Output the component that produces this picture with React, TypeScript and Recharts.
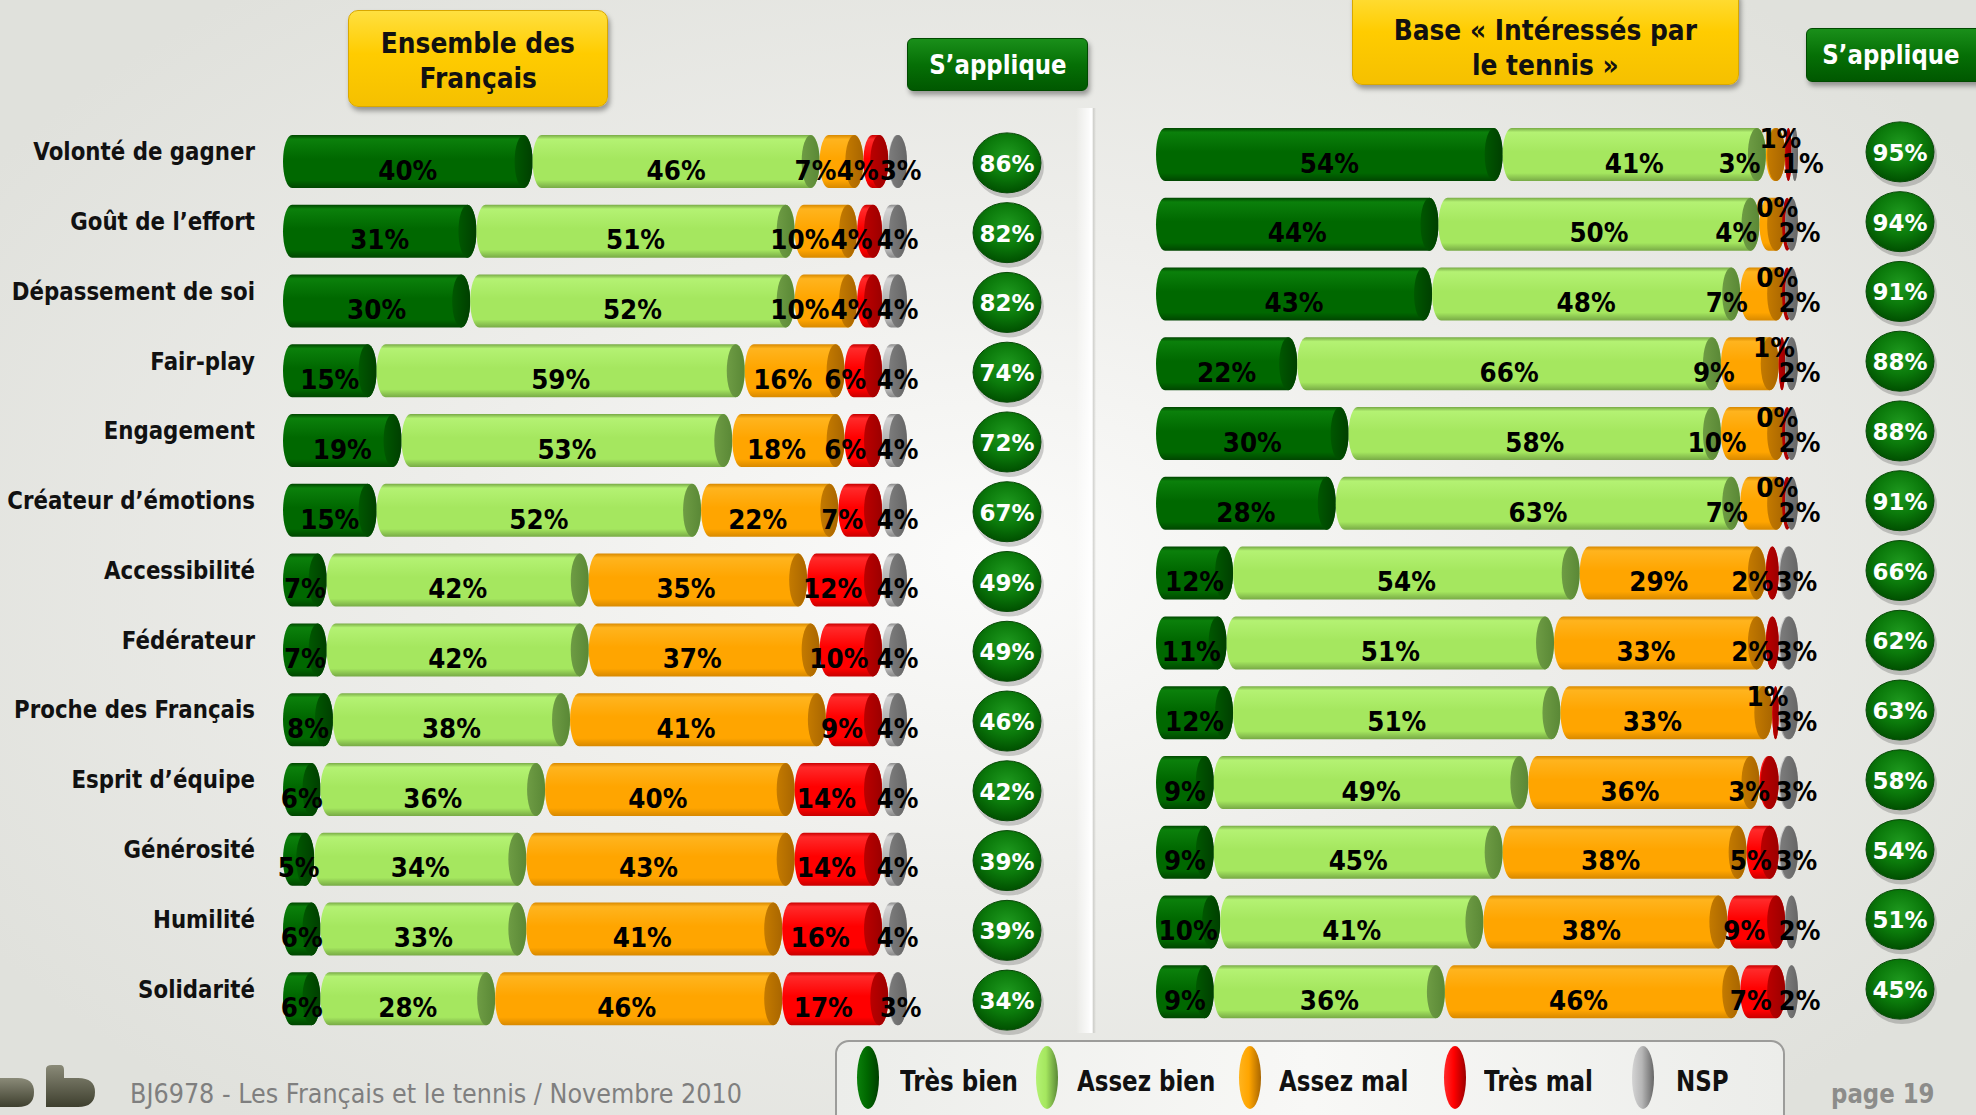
import React from 'react';
import { BarChart, Bar, XAxis, YAxis, LabelList } from 'recharts';

// qualities tested
const criteria = [
  'Volonté de gagner',
  'Goût de l’effort',
  'Dépassement de soi',
  'Fair-play',
  'Engagement',
  'Créateur d’émotions',
  'Accessibilité',
  'Fédérateur',
  'Proche des Français',
  'Esprit d’équipe',
  'Générosité',
  'Humilité',
  'Solidarité',
];

const seriesKeys = ['tb', 'ab', 'am', 'tm', 'nsp'];
const seriesNames = ['Très bien', 'Assez bien', 'Assez mal', 'Très mal', 'NSP'];

// Ensemble des Français
const allTresBien = [40, 31, 30, 15, 19, 15, 7, 7, 8, 6, 5, 6, 6];
const allAssezBien = [46, 51, 52, 59, 53, 52, 42, 42, 38, 36, 34, 33, 28];
const allAssezMal = [7, 10, 10, 16, 18, 22, 35, 37, 41, 40, 43, 41, 46];
const allTresMal = [4, 4, 4, 6, 6, 7, 12, 10, 9, 14, 14, 16, 17];
const allNsp = [3, 4, 4, 4, 4, 4, 4, 4, 4, 4, 4, 4, 3];
const allApplique = [86, 82, 82, 74, 72, 67, 49, 49, 46, 42, 39, 39, 34];

// Base « Intéressés par le tennis »
const fanTresBien = [54, 44, 43, 22, 30, 28, 12, 11, 12, 9, 9, 10, 9];
const fanAssezBien = [41, 50, 48, 66, 58, 63, 54, 51, 51, 49, 45, 41, 36];
const fanAssezMal = [3, 4, 7, 9, 10, 7, 29, 33, 33, 36, 38, 38, 46];
const fanTresMal = [1, 0, 0, 1, 0, 0, 2, 2, 1, 3, 5, 9, 7];
const fanNsp = [1, 2, 2, 2, 2, 2, 3, 3, 3, 3, 3, 2, 2];
const fanApplique = [95, 94, 91, 88, 88, 91, 66, 62, 63, 58, 54, 51, 45];

const buildRows = (tb: number[], ab: number[], am: number[], tm: number[], nsp: number[]) =>
  criteria.map((name, i) => ({ name, tb: tb[i], ab: ab[i], am: am[i], tm: tm[i], nsp: nsp[i] }));

const allRows = buildRows(allTresBien, allAssezBien, allAssezMal, allTresMal, allNsp);
const fanRows = buildRows(fanTresBien, fanAssezBien, fanAssezMal, fanTresMal, fanNsp);

const palette = [
  { top: '#0b800b', mid: '#006800', bottom: '#004600', cap: '#003f00', hi: '#005800' },
  { top: '#b4f273', mid: '#a5e75f', bottom: '#78aa46', cap: '#5a8836', hi: '#6e9c44' },
  { top: '#ffb41e', mid: '#ffa500', bottom: '#d88900', cap: '#a96600', hi: '#c47a00' },
  { top: '#ff2a2a', mid: '#ff0000', bottom: '#c80000', cap: '#9c0000', hi: '#bb0000' },
  { top: '#d4d4d4', mid: '#b6b6b6', bottom: '#8a8a8a', cap: '#666666', hi: '#7c7c7c' },
];

const gradients = (p: string) => [
  ...palette.map((c, i) => (
    <linearGradient key={`b${i}`} id={`${p}body${i}`} x1="0" y1="0" x2="0" y2="1">
      <stop offset="0%" stopColor={c.bottom} />
      <stop offset="8%" stopColor={c.top} />
      <stop offset="45%" stopColor={c.mid} />
      <stop offset="85%" stopColor={c.mid} />
      <stop offset="100%" stopColor={c.bottom} />
    </linearGradient>
  )),
  ...palette.map((c, i) => (
    <linearGradient key={`c${i}`} id={`${p}cap${i}`} x1="0" y1="0" x2="1" y2="0">
      <stop offset="0%" stopColor={c.hi} />
      <stop offset="100%" stopColor={c.cap} />
    </linearGradient>
  )),
  <radialGradient key="ap" id={`${p}appl`} cx="50%" cy="38%" r="62%">
    <stop offset="0%" stopColor="#1f9a1f" />
    <stop offset="55%" stopColor="#0b7a0b" />
    <stop offset="100%" stopColor="#005000" />
  </radialGradient>,
];

const makeShape = (p: string, s: number) => (props: any) => {
  const { x, y, width, height } = props;
  if (x == null || y == null || !height) return <g />;
  const ry = height / 2;
  const cy = y + ry;
  const w = Math.max(width || 0, 0);
  if (w < 2) {
    return <ellipse cx={x + 2} cy={cy} rx={5} ry={ry} fill={`url(#${p}cap${s})`} />;
  }
  const rx = Math.min(9, w / 2);
  const d = `M${x + rx},${y} H${x + w - rx} A${rx},${ry} 0 0 1 ${x + w - rx},${y + height} H${x + rx} A${rx},${ry} 0 0 1 ${x + rx},${y} Z`;
  return (
    <g>
      <path d={d} fill={`url(#${p}body${s})`} />
      <ellipse cx={x + w - rx} cy={cy} rx={rx} ry={ry} fill={`url(#${p}cap${s})`} />
    </g>
  );
};

const makeLabel = (side: 'L' | 'R', s: number) => (props: any) => {
  const { x, y, width, height, value } = props;
  if (x == null || y == null) return null;
  let cx = x + (width || 0) / 2;
  let cy = y + height / 2 + 9;
  if (side === 'L') {
    if (s === 2) cx -= value < 12 ? 26 : 12;
    if (s === 3) cx -= value < 8 ? 18 : 12;
    if (s === 4) cx += 3;
  } else {
    if (s === 2) cx -= value < 12 ? 36 : 14;
    if (s === 3) {
      if (value <= 1) {
        cx -= 8;
        cy -= 25;
      } else {
        cx -= value < 4 ? 20 : 12;
      }
    }
    if (s === 4) cx += 8;
  }
  return (
    <text
      transform={`translate(${cx},${cy}) scale(0.95,1)`}
      textAnchor="middle"
      dominantBaseline="central"
      fontFamily="DejaVu Sans, sans-serif"
      fontWeight="bold"
      fontSize={26}
      fill="#000"
    >
      {`${value}%`}
    </text>
  );
};

const CategoryTick = (props: any) => {
  const { x, y, payload } = props;
  return (
    <text
      transform={`translate(${x - 28},${y - 10}) scale(0.89,1)`}
      textAnchor="end"
      dominantBaseline="central"
      fontFamily="DejaVu Sans, sans-serif"
      fontWeight="bold"
      fontSize={24}
      fill="#111"
    >
      {payload.value}
    </text>
  );
};

const makeAppliqueTick = (p: string, values: number[], offset: number, dy: number) => (props: any) => {
  const { x, y, payload } = props;
  const i = criteria.indexOf(payload.value);
  const cx = x + offset;
  const cy = y + dy;
  return (
    <g>
      <ellipse cx={cx + 2} cy={cy + 4} rx={35} ry={31} fill="rgba(0,0,0,0.18)" />
      <ellipse cx={cx} cy={cy} rx={34} ry={30} fill={`url(#${p}appl)`} stroke="#0a4a0a" strokeWidth={1} />
      <text
        x={cx}
        y={cy + 1}
        textAnchor="middle"
        dominantBaseline="central"
        fontFamily="DejaVu Sans, sans-serif"
        fontWeight="bold"
        fontSize={23}
        fill="#fff"
      >
        {`${values[i]}%`}
      </text>
    </g>
  );
};

const StackedPanel = ({ p, rows, applique, width, margin, showNames, circleOffset, circleDy }: any) => (
  <BarChart width={width} height={1040} data={rows} layout="vertical" margin={margin} barSize={53}>
    <defs>{gradients(p)}</defs>
    <XAxis type="number" domain={[0, 100]} hide />
    {showNames ? (
      <YAxis
        yAxisId="cat"
        type="category"
        dataKey="name"
        width={283}
        interval={0}
        tickLine={false}
        axisLine={false}
        tickSize={0}
        tickMargin={0}
        tick={CategoryTick}
      />
    ) : (
      <YAxis yAxisId="cat" type="category" dataKey="name" hide width={0} />
    )}
    <YAxis
      yAxisId="appl"
      type="category"
      dataKey="name"
      orientation="right"
      width={150}
      interval={0}
      tickLine={false}
      axisLine={false}
      tickSize={0}
      tickMargin={0}
      tick={makeAppliqueTick(p, applique, circleOffset, circleDy)}
    />
    {seriesKeys.map((k, s) => (
      <Bar
        key={k}
        yAxisId="cat"
        dataKey={k}
        name={seriesNames[s]}
        stackId="a"
        fill={palette[s].mid}
        shape={makeShape(p, s)}
        isAnimationActive={false}
      >
        <LabelList dataKey={k} content={makeLabel(p === 'L' ? 'L' : 'R', s)} />
      </Bar>
    ))}
  </BarChart>
);

const squeeze = (t: string, sx: number) => (
  <span style={{ display: 'inline-block', transform: `scaleX(${sx})`, whiteSpace: 'nowrap' }}>{t}</span>
);

const yellowBox: React.CSSProperties = {
  position: 'absolute',
  background: 'linear-gradient(#ffe040, #ffcc00 45%, #f5c000)',
  border: '1px solid #d9a800',
  borderRadius: 10,
  boxShadow: '2px 4px 5px rgba(0,0,0,0.35)',
  display: 'flex',
  flexDirection: 'column',
  alignItems: 'center',
  justifyContent: 'center',
  fontWeight: 'bold',
  fontSize: 29,
  lineHeight: '35px',
  color: '#111',
  boxSizing: 'border-box',
};

const greenBox: React.CSSProperties = {
  position: 'absolute',
  background: 'linear-gradient(#1a8f1a, #067006 50%, #005800)',
  border: '1px solid #004a00',
  borderRadius: 6,
  boxShadow: '2px 4px 5px rgba(0,0,0,0.35)',
  display: 'flex',
  alignItems: 'center',
  justifyContent: 'center',
  fontWeight: 'bold',
  fontSize: 26,
  color: '#fff',
  boxSizing: 'border-box',
};

// legend layout (x of marker centre and text start inside the legend box)
const legendMarkerX = [31, 210, 413, 618, 806];
const legendTextX = [63, 240, 442, 647, 839];

export default function App() {
  return (
    <div
      style={{
        position: 'absolute',
        left: 0,
        top: 0,
        width: 1976,
        height: 1115,
        overflow: 'hidden',
        fontFamily: 'DejaVu Sans, sans-serif',
        background: 'radial-gradient(ellipse 60% 65% at 50% 50%, #fbfbfa 0%, #eeeeeb 45%, #e0e1dc 100%)',
      }}
    >
      {/* separator */}
      <div
        style={{
          position: 'absolute',
          left: 1076,
          top: 108,
          width: 20,
          height: 925,
          background:
            'linear-gradient(to right, rgba(255,255,255,0), rgba(255,255,255,0.8) 65%, #fff 72%, #fff 80%, rgba(190,190,185,0.6) 88%, rgba(255,255,255,0))',
        }}
      />

      {/* headers */}
      <div style={{ ...yellowBox, left: 348, top: 10, width: 260, height: 97, paddingTop: 4 }}>
        {squeeze('Ensemble des', 0.86)}
        {squeeze('Français', 0.86)}
      </div>
      <div style={{ ...greenBox, left: 907, top: 38, width: 181, height: 53 }}>{squeeze('S’applique', 0.88)}</div>
      <div style={{ ...yellowBox, left: 1352, top: -12, width: 387, height: 97, paddingTop: 22 }}>
        {squeeze('Base « Intéressés par', 0.86)}
        {squeeze('le tennis »', 0.86)}
      </div>
      <div style={{ ...greenBox, left: 1806, top: 28, width: 200, height: 54, justifyContent: 'flex-start', paddingLeft: 6 }}>
        {squeeze('S’applique', 0.88)}
      </div>

      <div style={{ position: 'absolute', left: 0, top: 0 }}>
        <StackedPanel
          p="L"
          rows={allRows}
          applique={allApplique}
          width={1057}
          margin={{ top: 127, right: 0, bottom: 6, left: 0 }}
          showNames
          circleOffset={100}
          circleDy={1}
        />
      </div>
      <div style={{ position: 'absolute', left: 1100, top: 0 }}>
        <StackedPanel
          p="R"
          rows={fanRows}
          applique={fanApplique}
          width={848}
          margin={{ top: 120, right: 0, bottom: 13, left: 56 }}
          showNames={false}
          circleOffset={102}
          circleDy={-3}
        />
      </div>

      {/* legend */}
      <div
        style={{
          position: 'absolute',
          left: 835,
          top: 1040,
          width: 946,
          height: 100,
          border: '2px solid #9c9c9a',
          borderRadius: 14,
          background: 'linear-gradient(to right, #ecedea, #f8f8f6 50%, #ecedea)',
        }}
      >
        {seriesNames.map((n, s) => (
          <React.Fragment key={n}>
            <div
              style={{
                position: 'absolute',
                left: legendMarkerX[s] - 11,
                top: 4,
                width: 22,
                height: 63,
                borderRadius: '50%',
                background: `linear-gradient(to right, ${palette[s].top}, ${palette[s].mid} 45%, ${palette[s].cap})`,
              }}
            />
            <div
              style={{
                position: 'absolute',
                left: legendTextX[s],
                top: 22,
                fontWeight: 'bold',
                fontSize: 28,
                lineHeight: '36px',
                color: '#111',
                transform: 'scaleX(0.82)',
                transformOrigin: 'left center',
                whiteSpace: 'nowrap',
              }}
            >
              {n}
            </div>
          </React.Fragment>
        ))}
      </div>

      {/* footer */}
      <svg style={{ position: 'absolute', left: 0, top: 1060 }} width={100} height={55}>
        <defs>
          <linearGradient id="logo" x1="0" y1="0" x2="0" y2="1">
            <stop offset="0%" stopColor="#8a8a78" />
            <stop offset="100%" stopColor="#3e3f2e" />
          </linearGradient>
        </defs>
        <path d="M0,47 V18 H18 Q34,18 34,32 Q34,47 18,47 Z" fill="url(#logo)" />
        <path d="M46,47 V9 Q46,5 52,5 H60 Q64,5 64,10 V18 H78 Q95,18 95,32 Q95,47 78,47 Z" fill="url(#logo)" />
      </svg>
      <div
        style={{
          position: 'absolute',
          left: 130,
          top: 1078,
          fontSize: 26,
          lineHeight: '32px',
          color: '#7f7f7f',
          transform: 'scaleX(0.92)',
          transformOrigin: 'left center',
          whiteSpace: 'nowrap',
        }}
      >
        BJ6978 - Les Français et le tennis / Novembre 2010
      </div>
      <div
        style={{
          position: 'absolute',
          left: 1831,
          top: 1078,
          fontSize: 26,
          fontWeight: 'bold',
          lineHeight: '32px',
          color: '#8c8c8a',
          transform: 'scaleX(0.88)',
          transformOrigin: 'left center',
          whiteSpace: 'nowrap',
        }}
      >
        page 19
      </div>
    </div>
  );
}
